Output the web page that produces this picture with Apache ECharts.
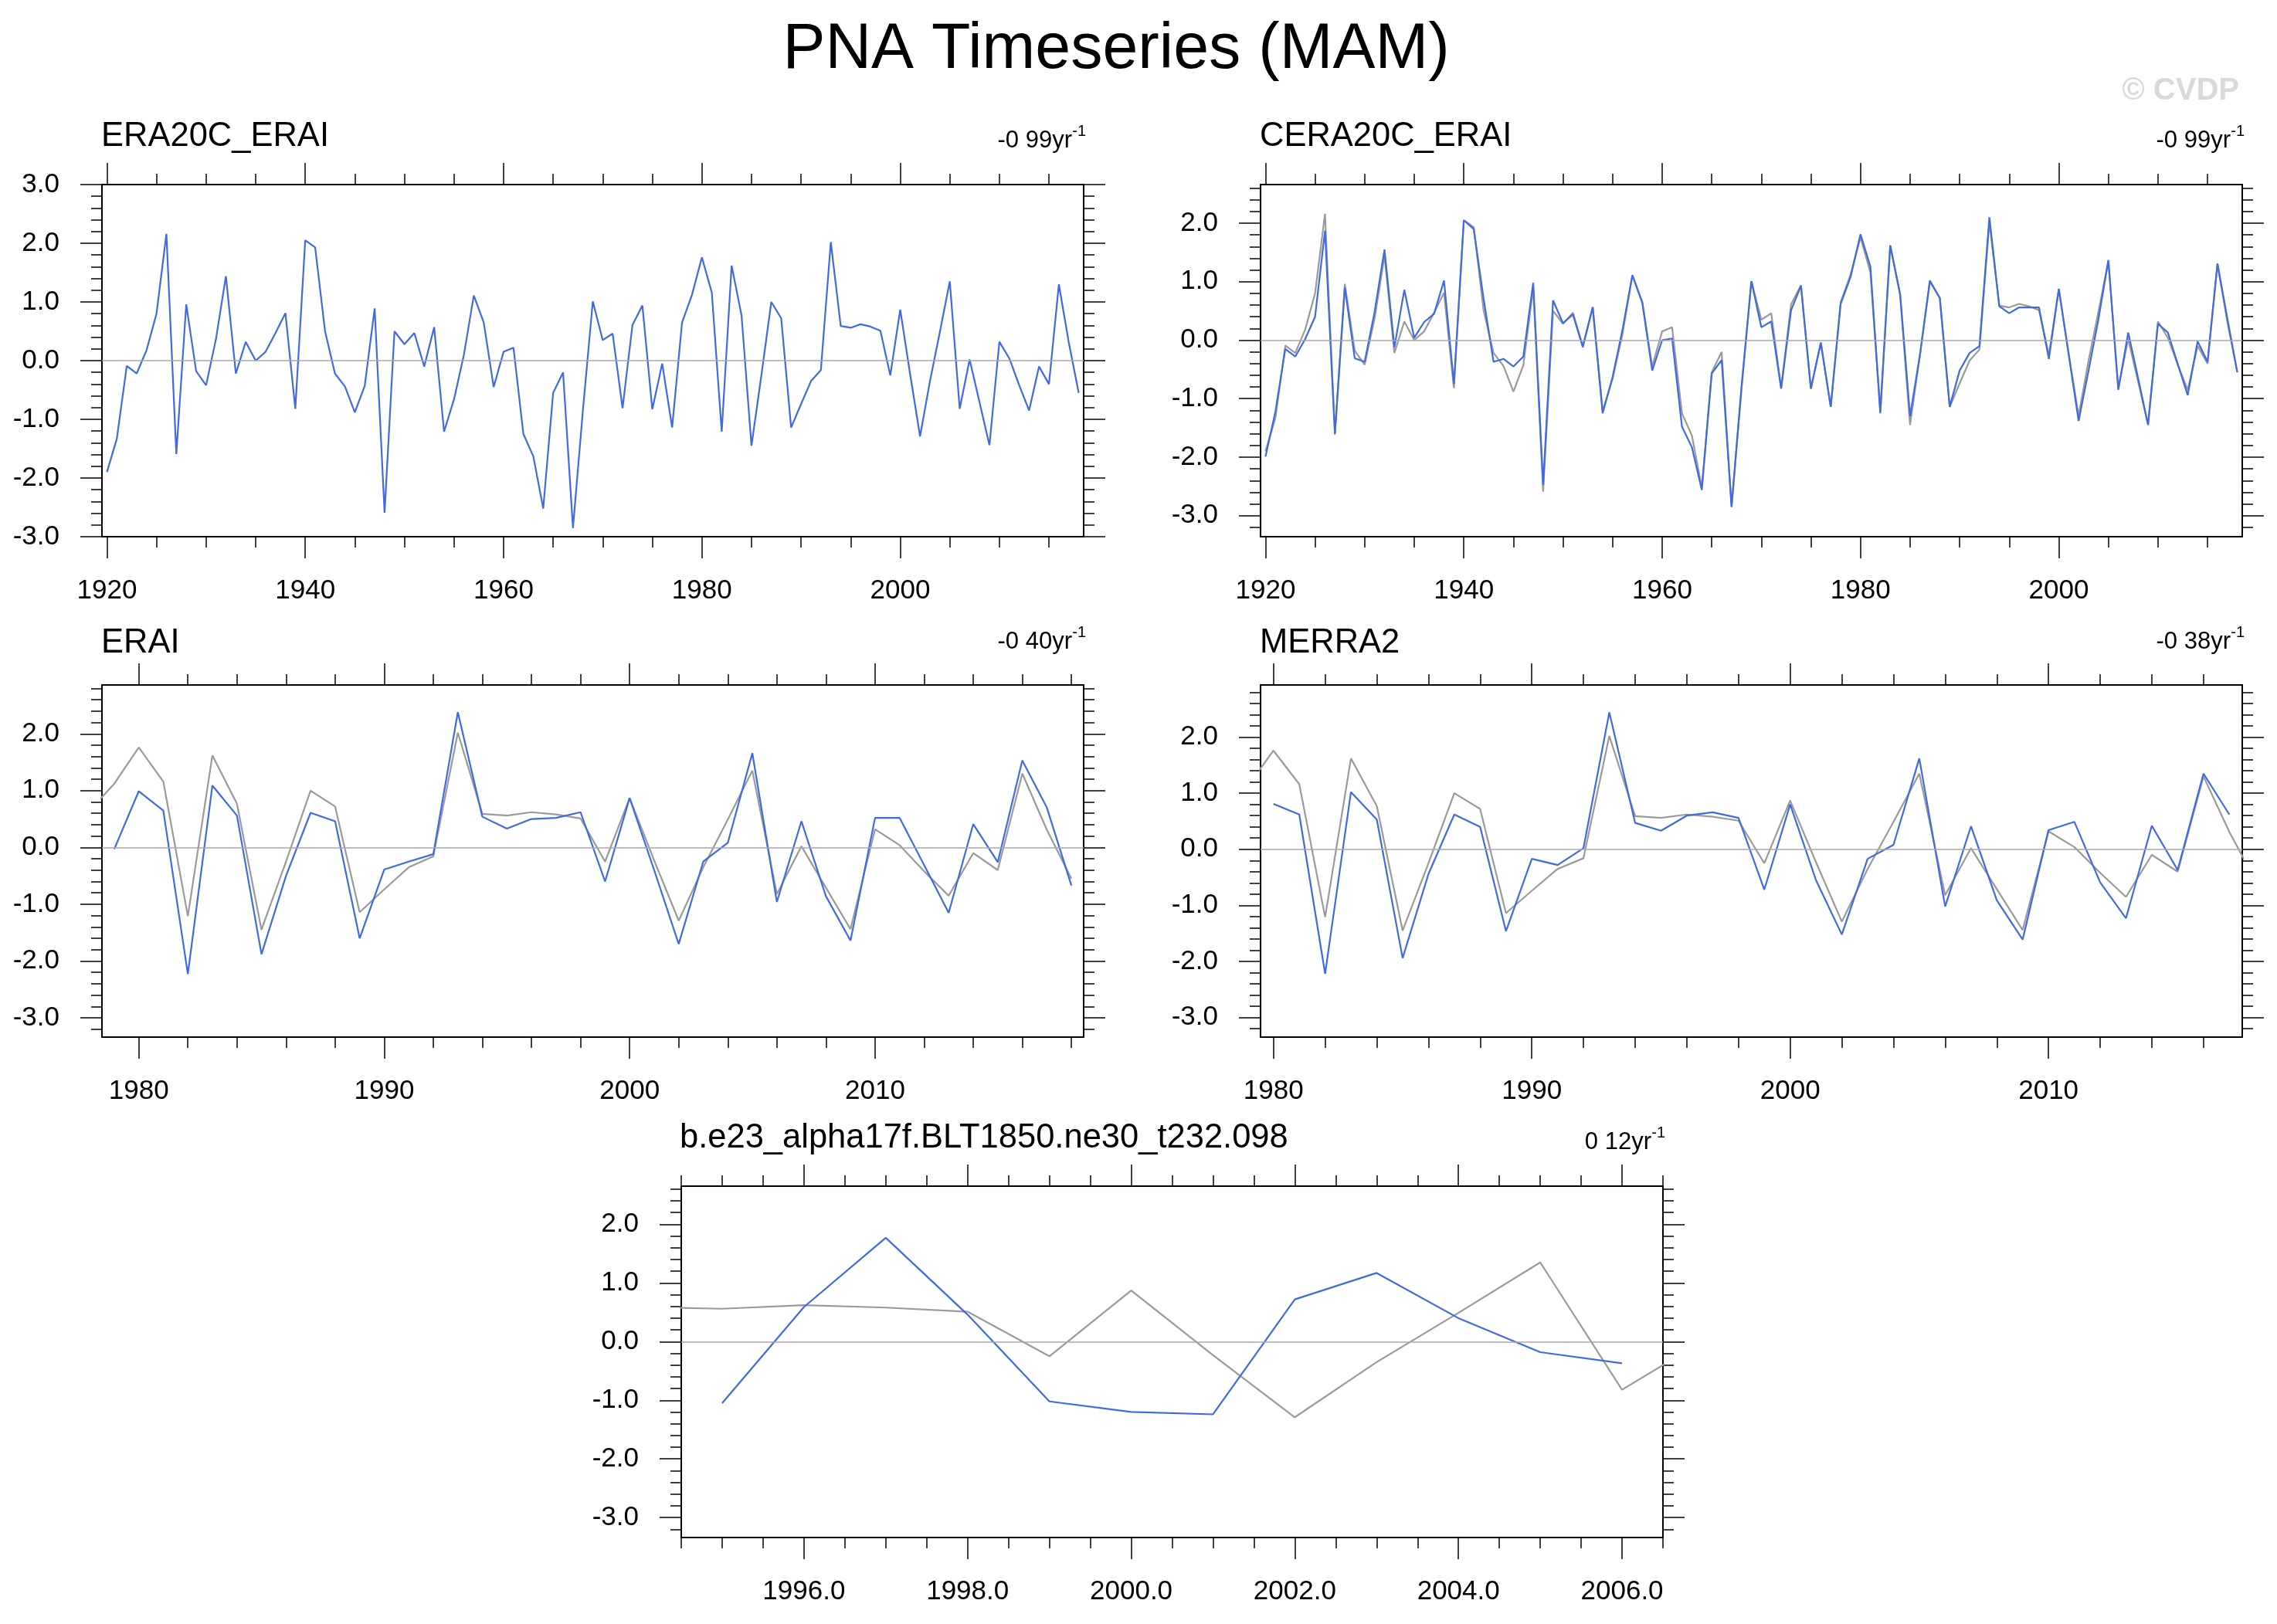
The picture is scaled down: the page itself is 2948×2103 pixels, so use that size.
<!DOCTYPE html>
<html>
<head>
<meta charset="utf-8">
<title>PNA Timeseries (MAM)</title>
<script src="https://cdn.jsdelivr.net/npm/echarts@6.0.0/dist/echarts.min.js"></script>
<style>
  html, body { margin: 0; padding: 0; background: #fff; }
  #chart { width: 2948px; height: 2103px; }
</style>
</head>
<body>
<div id="chart"></div>
<script>
// PNA index, MAM, one value per year
var obsStart = 1920;   // ERA20C_ERAI, also drawn grey in the other panels
var era20c = [
  -1.90, -1.33, -0.09, -0.22, 0.18, 0.80, 2.16, -1.59, 0.96, -0.18,
  -0.42, 0.37, 1.44, -0.22, 0.32, 0.00, 0.15, 0.47, 0.81, -0.82,
  2.05, 1.93, 0.50, -0.22, -0.44, -0.88, -0.43, 0.89, -2.59, 0.50,
  0.28, 0.47, -0.10, 0.57, -1.21, -0.66, 0.10, 1.11, 0.65, -0.45,
  0.15, 0.22, -1.25, -1.63, -2.52, -0.55, -0.20, -2.85, -0.85, 1.01,
  0.35, 0.46, -0.81, 0.61, 0.94, -0.83, -0.05, -1.14, 0.65, 1.12,
  1.76, 1.16, -1.21, 1.62, 0.77, -1.45, -0.25, 1.00, 0.72, -1.14,
  -0.74, -0.35, -0.16, 2.02, 0.59, 0.56, 0.62, 0.58, 0.51, -0.25,
  0.87, -0.23, -1.29, -0.35, 0.49, 1.35, -0.82, 0.02, -0.71, -1.44,
  0.32, 0.04, -0.42, -0.85, -0.10, -0.40, 1.30, 0.31, -0.55
];
var ceraStart = 1920;
var cera20c = [
  -1.99, -1.22, -0.15, -0.28, 0.02, 0.40, 1.87, -1.61, 0.90, -0.31,
  -0.37, 0.48, 1.55, -0.12, 0.86, 0.04, 0.31, 0.45, 1.02, -0.75,
  2.05, 1.90, 0.70, -0.37, -0.32, -0.45, -0.28, 0.98, -2.47, 0.68,
  0.29, 0.44, -0.12, 0.56, -1.25, -0.63, 0.18, 1.11, 0.64, -0.52,
  0.00, 0.03, -1.48, -1.83, -2.56, -0.57, -0.34, -2.85, -0.80, 1.01,
  0.22, 0.32, -0.83, 0.51, 0.93, -0.83, -0.04, -1.14, 0.62, 1.08,
  1.81, 1.26, -1.25, 1.62, 0.79, -1.30, -0.25, 1.02, 0.72, -1.14,
  -0.52, -0.22, -0.10, 2.10, 0.58, 0.46, 0.56, 0.56, 0.56, -0.32,
  0.88, -0.25, -1.38, -0.52, 0.36, 1.37, -0.85, 0.13, -0.65, -1.45,
  0.28, 0.13, -0.41, -0.94, -0.02, -0.37, 1.31, 0.37, -0.55
];
var eraiStart = 1979;
var erai = [
  -0.03, 0.99, 0.65, -2.23, 1.09, 0.56, -1.88, -0.50, 0.61, 0.46,
  -1.60, -0.39, -0.25, -0.12, 2.38, 0.54, 0.33, 0.50, 0.52, 0.62,
  -0.60, 0.87, -0.40, -1.70, -0.25, 0.08, 1.66, -0.96, 0.46, -0.86,
  -1.64, 0.52, 0.52, -0.31, -1.15, 0.41, -0.26, 1.53, 0.70, -0.67
];
var merraStart = 1980;
var merra2 = [
  0.81, 0.62, -2.22, 1.02, 0.53, -1.94, -0.44, 0.62, 0.40, -1.46,
  -0.17, -0.28, 0.02, 2.44, 0.47, 0.33, 0.60, 0.66, 0.56, -0.72,
  0.80, -0.55, -1.52, -0.17, 0.08, 1.62, -1.02, 0.41, -0.91, -1.61,
  0.34, 0.49, -0.59, -1.23, 0.42, -0.37, 1.35, 0.62
];
var modelStart = 1995;
var model = [-1.05, 0.59, 1.77, 0.46, -1.02, -1.20, -1.24, 0.72, 1.17, 0.40, -0.18, -0.37];

// tick labels
var longTicks = [1920, 1940, 1960, 1980, 2000];
var longMinor = [1925, 1930, 1935, 1945, 1950, 1955, 1965, 1970, 1975, 1985, 1990, 1995, 2005, 2010, 2015];
var recentTicks = [1980, 1990, 2000, 2010];
var recentMinor = [1982, 1984, 1986, 1988, 1992, 1994, 1996, 1998, 2002, 2004, 2006, 2008, 2012, 2014, 2016, 2018];
var modelTicks = [1996, 1998, 2000, 2002, 2004, 2006];
var modelMinor = [1994.5, 1995, 1995.5, 1996.5, 1997, 1997.5, 1998.5, 1999, 1999.5, 2000.5, 2001, 2001.5,
                  2002.5, 2003, 2003.5, 2004.5, 2005, 2005.5, 2006.5];
var yTicks6 = [-3, -2, -1, 0, 1, 2, 3];
var yTicks5 = [-3, -2, -1, 0, 1, 2];

var panelTitles = ['ERA20C_ERAI', 'CERA20C_ERAI', 'ERAI', 'MERRA2', 'b.e23_alpha17f.BLT1850.ne30_t232.098'];
var trendText = ['-0 99yr', '-0 99yr', '-0 40yr', '-0 38yr', '0 12yr'];

var FONT = '"Liberation Sans", Arial, Helvetica, sans-serif';
var BLUE = '#4169e1';
var GREY = '#9a9a9a';
var TITLE_SIZE = 43.5;
var TREND_SIZE = 31;
var SUP_SIZE = 20;
var TICK_SIZE = 35;

function pairs(start, vals) {
  var out = [];
  for (var i = 0; i < vals.length; i++) out.push([start + i, vals[i]]);
  return out;
}

function minorY(lo, hi) {
  var out = [];
  for (var k = Math.ceil(lo * 5 - 1e-6); k <= Math.floor(hi * 5 + 1e-6); k++) {
    if (k % 5 !== 0) out.push(k / 5);
  }
  return out;
}

// panel layout (px) and axis ranges
var panels = [
  { box: [132, 239, 1271, 456],  xr: [1919.5, 2018.5], xt: longTicks, xm: longMinor, yr: [-3, 3], yt: yTicks6,
    obs: 0, main: [obsStart, era20c], fmt: function (v) { return String(v); },
    title: [131, 192], trend: [1406, 193] },
  { box: [1632, 239, 1271, 456], xr: [1919.5, 2018.5], xt: longTicks, xm: longMinor, yr: [-3.36, 2.66], yt: yTicks5,
    obs: 1, main: [ceraStart, cera20c], fmt: function (v) { return String(v); },
    title: [1631, 192], trend: [2906, 193] },
  { box: [132, 887, 1271, 456],  xr: [1978.5, 2018.5], xt: recentTicks, xm: recentMinor, yr: [-3.34, 2.86], yt: yTicks5,
    obs: 1, main: [eraiStart, erai], fmt: function (v) { return String(v); },
    title: [131, 848], trend: [1406, 842] },
  { box: [1632, 887, 1271, 456], xr: [1979.5, 2017.5], xt: recentTicks, xm: recentMinor, yr: [-3.35, 2.93], yt: yTicks5,
    obs: 1, main: [merraStart, merra2], fmt: function (v) { return String(v); },
    title: [1631, 848], trend: [2906, 842] },
  { box: [882, 1536, 1271, 455], xr: [1994.5, 2006.5], xt: modelTicks, xm: modelMinor, yr: [-3.34, 2.65], yt: yTicks5,
    obs: 1, main: [modelStart, model], fmt: function (v) { return v.toFixed(1); },
    title: [880, 1489], trend: [2156, 1490] }
];

var grids = [], xAxes = [], yAxes = [], series = [], texts = [];

function axisBase(gi, r) {
  return { type: 'value', gridIndex: gi, min: r[0], max: r[1], splitLine: { show: false }, silent: true };
}
function tickAxis(base, pos, vals, len, line, label) {
  var a = Object.assign({}, base, {
    position: pos,
    axisLine: { show: line, onZero: false, lineStyle: { color: '#000', width: 2 } },
    axisTick: { show: true, inside: false, length: len, customValues: vals,
                lineStyle: { color: '#111', width: 1.6 } },
    axisLabel: { show: false }
  });
  if (label) a.axisLabel = label;
  return a;
}
function textEl(str, x, baseline, size, align, extra) {
  var st = { text: str, x: x, y: baseline - 0.347 * size, fill: '#000', fontSize: size, fontFamily: FONT,
             textAlign: align, textVerticalAlign: 'middle', align: align, verticalAlign: 'middle' };
  if (extra) Object.assign(st, extra);
  return { type: 'text', silent: true, style: st };
}

panels.forEach(function (p, gi) {
  grids.push({ left: p.box[0], top: p.box[1], width: p.box[2], height: p.box[3], containLabel: false });

  var xb = axisBase(gi, p.xr);
  var xi = xAxes.length;
  xAxes.push(tickAxis(xb, 'bottom', p.xt, 28, true, {
    show: true, customValues: p.xt, formatter: p.fmt, margin: 53,
    fontSize: TICK_SIZE, color: '#000', fontFamily: FONT
  }));
  xAxes.push(tickAxis(xb, 'bottom', p.xm, 14, false));
  xAxes.push(tickAxis(xb, 'top', p.xt, 28, true));
  xAxes.push(tickAxis(xb, 'top', p.xm, 14, false));

  var yb = axisBase(gi, p.yr);
  var ym = minorY(p.yr[0], p.yr[1]);
  var yi = yAxes.length;
  yAxes.push(tickAxis(yb, 'left', p.yt, 28, true, {
    show: true, customValues: p.yt, formatter: function (v) { return v.toFixed(1); }, margin: 55,
    fontSize: TICK_SIZE, color: '#000', fontFamily: FONT
  }));
  yAxes.push(tickAxis(yb, 'left', ym, 14, false));
  yAxes.push(tickAxis(yb, 'right', p.yt, 28, true));
  yAxes.push(tickAxis(yb, 'right', ym, 14, false));

  // reference (grey) series carries the zero line
  series.push({
    type: 'line', xAxisIndex: xi, yAxisIndex: yi, data: pairs(obsStart, era20c),
    symbol: 'none', clip: true, silent: true, z: 2,
    lineStyle: { color: GREY, width: 2.2, opacity: p.obs },
    markLine: {
      silent: true, symbol: 'none', label: { show: false },
      lineStyle: { color: '#a8a8a8', width: 1.6, type: 'solid', opacity: 1 },
      data: [{ yAxis: 0 }]
    }
  });
  series.push({
    type: 'line', xAxisIndex: xi, yAxisIndex: yi, data: pairs(p.main[0], p.main[1]),
    symbol: 'none', clip: true, silent: true, z: 3,
    lineStyle: { color: BLUE, width: 2.2 }
  });

  texts.push(textEl(panelTitles[gi], p.title[0], p.title[1], TITLE_SIZE, 'left'));
  texts.push(textEl(trendText[gi], p.trend[0] - 18, p.trend[1], TREND_SIZE, 'right'));
  texts.push(textEl('-1', p.trend[0], p.trend[1] - 16, SUP_SIZE, 'right'));
});

texts.push(textEl('PNA Timeseries (MAM)', 1445, 94, 82.5, 'center'));
texts.push(textEl('\u00a9 CVDP', 2899, 132, 40, 'right', { fill: '#d9d9d9', fontWeight: 'bold' }));

var chart = echarts.init(document.getElementById('chart'), null, { renderer: 'canvas' });
chart.setOption({
  animation: false,
  backgroundColor: '#ffffff',
  grid: grids,
  xAxis: xAxes,
  yAxis: yAxes,
  series: series,
  graphic: { elements: texts }
});
</script>
</body>
</html>
